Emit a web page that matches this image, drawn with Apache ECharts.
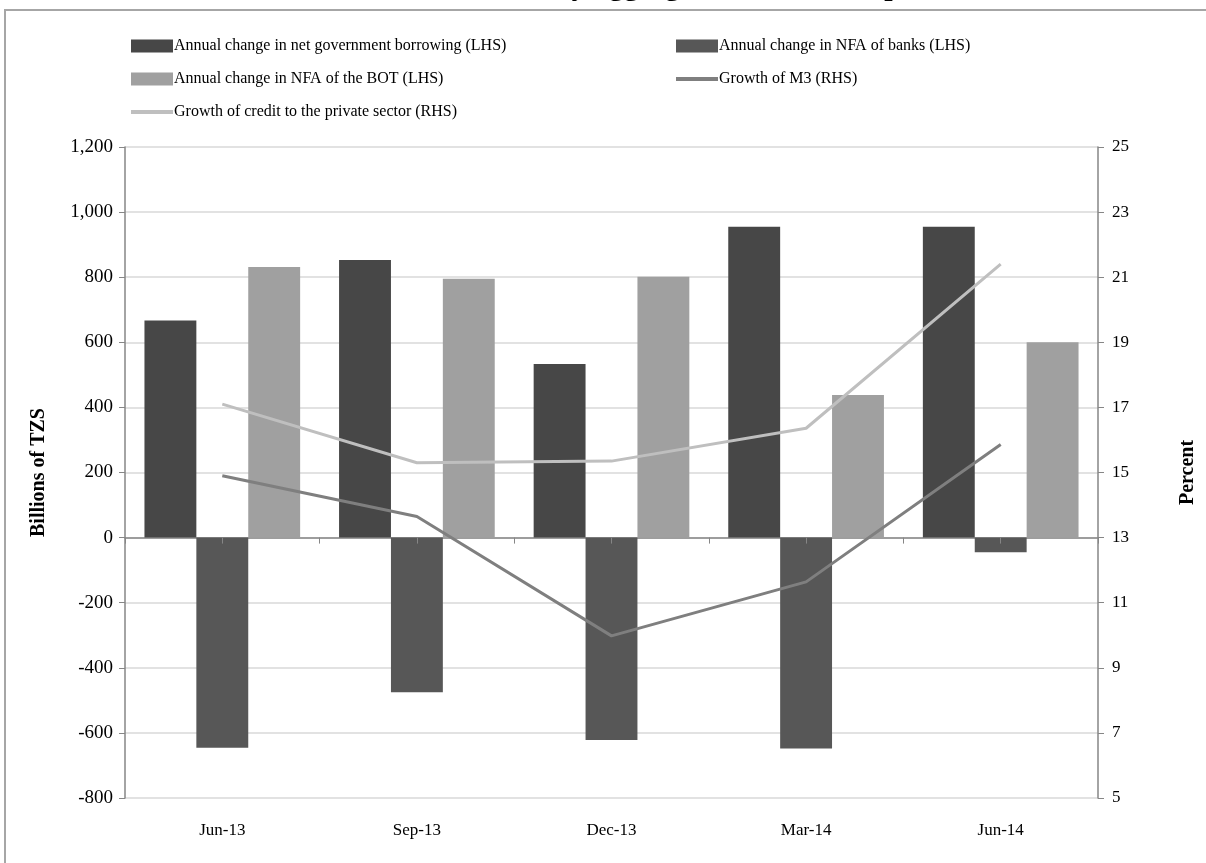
<!DOCTYPE html>
<html>
<head>
<meta charset="utf-8">
<script src="https://cdn.jsdelivr.net/npm/echarts@6/dist/echarts.min.js"></script>
<style>
html,body{margin:0;padding:0;background:#fff;}
#chart{width:1206px;height:863px;}
</style>
</head>
<body>
<div id="chart"></div>
<script>
const categories = ['Jun-13', 'Sep-13', 'Dec-13', 'Mar-14', 'Jun-14'];
const govBorrowing = [667, 853, 533, 955, 955];
const nfaBanks = [-646, -475, -622, -648, -45];
const nfaBOT = [831, 795, 801, 438, 600];
const growthM3 = [14.9, 13.65, 9.98, 11.64, 15.86];
const growthCredit = [17.1, 15.3, 15.35, 16.36, 21.4];

const names = {
  gov: 'Annual change in net government borrowing (LHS)',
  banks: 'Annual change in NFA of banks (LHS)',
  bot: 'Annual change in NFA of the BOT (LHS)',
  m3: 'Growth of M3 (RHS)',
  credit: 'Growth of credit to the private sector (RHS)'
};

const FONT = 'Liberation Serif';
const chart = echarts.init(document.getElementById('chart'), null, {renderer: 'canvas'});

const legendText = {fontFamily: FONT, fontSize: 16, color: '#000', padding: [0, 0, 0, -4]};
const gridLine = {show: true, lineStyle: {color: '#d9d9d9', width: 1.5}};
const lineIcon = 'path://M0,0L42,0L42,4L0,4Z';

chart.setOption({
  animation: false,
  backgroundColor: '#fff',
  textStyle: {fontFamily: FONT},
  graphic: [
    {type: 'rect', shape: {x: 5, y: 10, width: 1400, height: 1000}, style: {fill: 'none', stroke: '#a6a6a6', lineWidth: 2}, z: -1},
    {type: 'text', x: 722, y: -13, style: {text: 'Monetary aggregates and its components', font: 'bold 30px "Liberation Serif"', fill: '#000', textAlign: 'center', textVerticalAlign: 'middle'}}
  ],
  legend: [
    {orient: 'vertical', left: 126, top: 33, itemWidth: 42, itemHeight: 13, itemGap: 17,
     textStyle: legendText,
     data: [{name: names.gov, icon: 'rect'}, {name: names.bot, icon: 'rect'}, {name: names.credit, icon: lineIcon}]},
    {orient: 'vertical', left: 671, top: 33, itemWidth: 42, itemHeight: 13, itemGap: 17,
     textStyle: legendText,
     data: [{name: names.banks, icon: 'rect'}, {name: names.m3, icon: lineIcon}]}
  ],
  grid: {left: 125, right: 108, top: 147, bottom: 65, containLabel: false},
  xAxis: [
    {type: 'category', data: categories, position: 'bottom',
     axisLine: {onZero: true, onZeroAxisIndex: 0, lineStyle: {color: '#868686', width: 1.5}},
     axisTick: {show: true, length: 6, lineStyle: {color: '#868686'}},
     axisLabel: {show: false}, splitLine: {show: false}},
    {type: 'category', data: categories, position: 'bottom',
     axisLine: {show: false, onZero: false}, axisTick: {show: false},
     axisLabel: {show: true, margin: 24, fontFamily: FONT, fontSize: 17, color: '#000'}},
    {type: 'category', data: categories, position: 'bottom', z: 10,
     axisLine: {show: false, onZero: true, onZeroAxisIndex: 0}, axisTick: {show: true, alignWithLabel: true, length: 6, lineStyle: {color: '#868686'}},
     axisLabel: {show: false}}
  ],
  yAxis: [
    {type: 'value', min: -800, max: 1200, interval: 200, position: 'left',
     name: 'Billions of TZS', nameLocation: 'middle', nameGap: 76, nameRotate: 90,
     nameTextStyle: {fontFamily: FONT, fontSize: 20, fontWeight: 'bold', color: '#000'},
     axisLine: {show: true, lineStyle: {color: '#868686', width: 1.5}},
     axisTick: {show: true, length: 6, lineStyle: {color: '#868686'}},
     axisLabel: {fontFamily: FONT, fontSize: 19, color: '#000', margin: 12,
       formatter: v => v.toLocaleString('en-US')},
     splitLine: gridLine},
    {type: 'value', min: 5, max: 25, interval: 2, position: 'right',
     name: 'Percent', nameLocation: 'middle', nameGap: 80, nameRotate: 90,
     nameTextStyle: {fontFamily: FONT, fontSize: 20, fontWeight: 'bold', color: '#000'},
     axisLine: {show: true, lineStyle: {color: '#868686', width: 1.5}},
     axisTick: {show: true, length: 6, lineStyle: {color: '#868686'}},
     axisLabel: {fontFamily: FONT, fontSize: 17, color: '#000', margin: 14},
     splitLine: {show: false}}
  ],
  series: [
    {name: names.gov, type: 'bar', data: govBorrowing, barGap: '0%', barCategoryGap: '20%',
     itemStyle: {color: '#474747'}},
    {name: names.banks, type: 'bar', data: nfaBanks, barGap: '0%', barCategoryGap: '20%',
     itemStyle: {color: '#575757'}},
    {name: names.bot, type: 'bar', data: nfaBOT, barGap: '0%', barCategoryGap: '20%',
     itemStyle: {color: '#a0a0a0'}},
    {name: names.m3, type: 'line', yAxisIndex: 1, data: growthM3, symbol: 'none',
     lineStyle: {color: '#7f7f7f', width: 3}, itemStyle: {color: '#7f7f7f'}, z: 5},
    {name: names.credit, type: 'line', yAxisIndex: 1, data: growthCredit, symbol: 'none',
     lineStyle: {color: '#bfbfbf', width: 3}, itemStyle: {color: '#bfbfbf'}, z: 5}
  ]
});
</script>
</body>
</html>
